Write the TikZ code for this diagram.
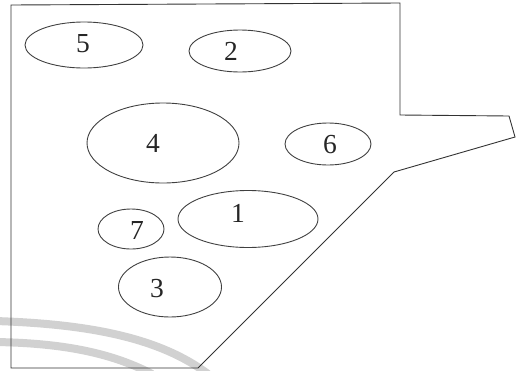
\documentclass[tikz,border=0pt]{standalone}
\usepackage{fontspec}
\setmainfont{Liberation Serif}
\usetikzlibrary{shapes.geometric}
\begin{document}
\begin{tikzpicture}[x=1pt,y=-1pt,
  outline/.style={draw=black!80,line width=0.9pt,line join=miter},
  region/.style={ellipse,draw=black!75,line width=0.9pt,inner sep=0pt},
  lab/.style={font=\fontsize{27.5}{27.5}\selectfont,text=black!85,inner sep=0pt},
  wm/.style={draw=black!18,line width=8pt}]
\useasboundingbox (0,0) rectangle (516,370);
% watermark arcs
\draw[wm] (-5,321) .. controls (90,324) and (160,338) .. (208,374);
\draw[wm] (-5,342) .. controls (60,343) and (110,352) .. (152,374);
% outline
\coordinate (p1) at (11,5);
\coordinate (p2) at (400,3);
\coordinate (p3) at (400,115);
\coordinate (p4) at (509,116);
\coordinate (p5) at (515,137);
\coordinate (p6) at (394,172);
\coordinate (p7) at (198,368);
\coordinate (p8) at (11,368);
\draw[outline] (p1) -- (p2) -- (p3) -- (p4) -- (p5) -- (p6) -- (p7) -- (p8) -- cycle;
% regions
\node[region,minimum width=118pt,minimum height=46pt] (e5) at (84,45) {};
\node[region,minimum width=102pt,minimum height=42pt] (e2) at (240,51) {};
\node[region,minimum width=152pt,minimum height=80pt] (e4) at (163,143) {};
\node[region,minimum width=86pt,minimum height=42pt] (e6) at (328,144) {};
\node[region,minimum width=66pt,minimum height=40pt] (e7) at (131,229) {};
\node[region,minimum width=140pt,minimum height=57pt] (e1) at (248,219) {};
\node[region,minimum width=103pt,minimum height=60pt] (e3) at (170,287) {};
% labels
\node[lab] (l5) at (83,44) {5};
\node[lab] (l2) at (231,51) {2};
\node[lab] (l4) at (153,143) {4};
\node[lab] (l6) at (330,145) {6};
\node[lab] (l7) at (137,230) {7};
\node[lab] (l1) at (238,213) {1};
\node[lab] (l3) at (157,289) {3};
\end{tikzpicture}
\end{document}
